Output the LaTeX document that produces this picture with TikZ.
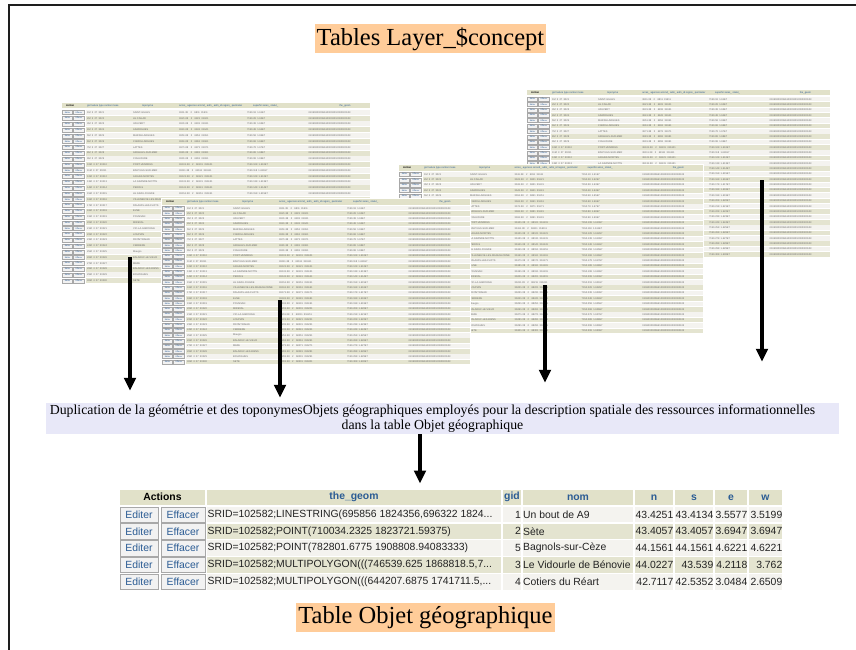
\documentclass[tikz,border=0pt]{standalone}
\usepackage{fontspec}
\setmainfont{Liberation Serif}
\setsansfont{Liberation Sans}
\usetikzlibrary{arrows.meta,positioning}
\definecolor{peach}{HTML}{FFCC99}
\definecolor{lavender}{HTML}{E8E8F8}
\definecolor{headfill}{HTML}{E1E1C9}
\definecolor{rowlight}{HTML}{F4F3EF}
\definecolor{rowolive}{HTML}{E4E4D0}
\definecolor{colblue}{HTML}{2B5C94}
\definecolor{btnfill}{HTML}{F2F2F2}
\definecolor{btnline}{HTML}{A8A8A8}
\definecolor{celltext}{HTML}{222222}
\definecolor{minitext}{HTML}{6A6A6A}
\definecolor{frameline}{HTML}{1E1E1E}
\newcommand{\toponymes}{SAINT-GILLES,LE CAILAR,VAUVERT,AIMARGUES,MARSILLARGUES,CANDILLARGUES,LATTES,ARGELES-SUR-MER,COLLIOURE,PORT-VENDRES,BANYULS-SUR-MER,AIGUES-MORTES,LA GRANDE-MOTTE,PEROLS,LE GRAU-D'AGDE,VILLENEUVE-LES-MAGUELONNE,PALAVAS-LES-FLOTS,ELNE,POUSSAN,MIREVAL,VIC-LA-GARDIOLE,LOUPIAN,FRONTIGNAN,CERBERE,Maugio,BALARUC-LE-VIEUX,MEZE,BALARUC-LES-BAINS,BOUZIGUES,SETE}
% small screenshot of a layer table: x, y, width, row pitch, name,
% then the first row whose buttons+codes / toponym / first values / last values+geom lie under another table
\newcommand{\minitab}[9]{%
  \begin{scope}[shift={(#1,#2)}]
    \fill[white] (-1,-1) rectangle (#3+1,{7+30*#4});
    \fill[headfill] (0,0) rectangle (#3,5.5);
    \ifnum#6>1 \node[minibold] (#5-action) at (4,2.75) {Action};
    \node[minihead] (#5-codes) at (25,2.75) {gid nature type canton insee};\fi
    \ifnum#7>1 \node[minihead] (#5-topo) at (80,2.75) {toponyme};\fi
    \ifnum#8>1 \node[minihead] (#5-vals) at (0.38*#3,2.75) {acres\_ agences arrond\_ adm\_ adm\_id region\_ perimeter};\fi
    \ifnum#9>1 \node[minihead] (#5-vals2) at (0.62*#3,2.75) {superfici aires\_ statut\_};
    \node[minihead] (#5-geom) at (0.9*#3,2.75) {the\_geom};\fi
    \foreach \t [count=\i] in \toponymes {
      \pgfmathsetmacro{\ry}{6.5+(\i-0.5)*#4}
      \ifodd\i \def\rc{rowlight}\else\def\rc{rowolive}\fi
      \fill[\rc] (23.5,\ry-#4/2+0.4) rectangle (#3,\ry+#4/2-0.4);
      \ifnum\i<#6
        \draw[minibtn] (0.5,\ry-2) rectangle (10.5,\ry+2);
        \draw[minibtn] (11.5,\ry-2) rectangle (22.5,\ry+2);
        \node[minibtntext] (#5-ed\i) at (5.5,\ry) {Editer};
        \node[minibtntext] (#5-ef\i) at (17,\ry) {Effacer};
        \node[minitxt] (#5-c\i) at (25,\ry) {\i M\enspace 3\enspace 27\enspace 302\i};
      \fi
      \ifnum\i<#7 \node[minitxt] (#5-t\i) at (71,\ry) {\t};\fi
      \ifnum\i<#8 \node[minitxt] (#5-v\i) at (0.38*#3,\ry) {36\i1.38\enspace\enspace 2\enspace\enspace 68\i1\enspace 316\i1};\fi
      \ifnum\i<#9
        \node[minitxt] (#5-w\i) at (0.6*#3,\ry) {7150.\i8\enspace 1.6\i E7};
        \node[minitxt] (#5-g\i) at (0.8*#3,\ry) {0106000020E6100000010000000103};
      \fi
    }
  \end{scope}}
% one line of the geographic object table
\newcommand{\georow}[9]{%
  \draw[btn] (120,#1) rectangle (158,#1+15.5);
  \draw[btn] (161,#1) rectangle (205,#1+15.5);
  \node[btntext] (ed-#4) at (139,#1+7.75) {Editer};
  \node[btntext] (ef-#4) at (183,#1+7.75) {Effacer};
  \fill[#2] (207,#1) rectangle (501,#1+15.5);
  \fill[#2] (503,#1) rectangle (521,#1+15.5);
  \fill[#2] (523,#1) rectangle (633,#1+15.5);
  \fill[#2] (635,#1) rectangle (673,#1+15.5);
  \fill[#2] (675,#1) rectangle (713,#1+15.5);
  \fill[#2] (715,#1) rectangle (747,#1+15.5);
  \fill[#2] (749,#1) rectangle (782,#1+15.5);
  \node[celltxt,anchor=west] (geom-#4) at (207.5,#1+7.75) {#3};
  \node[celltxt,anchor=east] (gid-#4) at (521,#1+7.75) {#4};
  \begin{scope}
    \clip (523,#1) rectangle (633,#1+15.5);
    \node[celltxt,anchor=west] (nom-#4) at (523,#1+7.75) {#5};
  \end{scope}
  \node[celltxt,anchor=east] (n-#4) at (673.5,#1+7.75) {#6};
  \node[celltxt,anchor=east] (s-#4) at (713.5,#1+7.75) {#7};
  \node[celltxt,anchor=east] (e-#4) at (747.5,#1+7.75) {#8};
  \node[celltxt,anchor=east] (w-#4) at (782.5,#1+7.75) {#9};}
\begin{document}
\begin{tikzpicture}[x=1pt,y=-1pt,
  title/.style={fill=peach,font=\fontsize{24.5}{28}\selectfont,inner xsep=2pt,inner ysep=2pt,minimum height=29pt},
  band/.style={fill=lavender,minimum width=793pt,minimum height=31pt,inner sep=0pt},
  bandtext/.style={font=\fontsize{13.8}{14.3}\selectfont,align=center,inner sep=0pt},
  arr/.style={line width=3.4pt,-{Triangle[length=13pt,width=11.5pt]}},
  minitxt/.style={font=\fontsize{2.5}{3}\sffamily,text=minitext,inner sep=0pt,anchor=west},
  minihead/.style={minitxt,text=colblue},
  minibold/.style={minitxt,text=black,font=\fontsize{2.6}{3}\sffamily\bfseries},
  minibtn/.style={draw=btnline,fill=btnfill,line width=0.2pt},
  minibtntext/.style={font=\fontsize{2.1}{3}\sffamily,text=colblue,inner sep=0pt},
  btn/.style={draw=btnline,fill=btnfill,line width=0.6pt},
  btntext/.style={font=\fontsize{10.4}{12}\sffamily,text=colblue,inner sep=0pt},
  celltxt/.style={font=\fontsize{10.4}{12}\sffamily,text=celltext,inner sep=0pt},
  headtxt/.style={font=\fontsize{10.4}{12}\sffamily\bfseries,text=colblue,inner sep=0pt}]
\useasboundingbox (0,0) rectangle (856,650);
\draw[line width=2.6pt,frameline] (9,650) -- (9,5) -- (856,5);
\node[title] (layers) at (430.5,39) {Tables Layer\_\$concept};
% the four layer tables, back to front
\minitab{62}{103}{308}{5.8}{ta}{99}{99}{17}{17}
\minitab{527}{90}{303}{5.35}{tb}{14}{14}{14}{99}
\minitab{399}{165}{304}{5.4}{tc}{6}{99}{99}{99}
\minitab{162}{199}{308}{5.3}{td}{99}{99}{99}{99}
\node[band] (dup) at (442,418.5) {};
\node[bandtext] (duptext) at (432.5,418.5) {Duplication de la géométrie et des toponymesObjets géographiques employés pour la description spatiale des ressources informationnelles\\dans la table Objet géographique};
\coordinate (src1) at (130,257);
\coordinate (src2) at (280,300);
\coordinate (src3) at (545,285);
\coordinate (src4) at (762,180);
\draw[arr,shorten >=12pt] (src1) -- (src1 |- dup.north);
\draw[arr,shorten >=5pt] (src2) -- (src2 |- dup.north);
\draw[arr,shorten >=20pt] (src3) -- (src3 |- dup.north);
\draw[arr,shorten >=41pt] (src4) -- (src4 |- dup.north);
% table Objet geographique
\fill[headfill] (120,489.5) rectangle (205,505);
\fill[headfill] (207,489.5) rectangle (501,505);
\fill[headfill] (503,489.5) rectangle (521,505);
\fill[headfill] (523,489.5) rectangle (633,505);
\fill[headfill] (635,489.5) rectangle (673,505);
\fill[headfill] (675,489.5) rectangle (713,505);
\fill[headfill] (715,489.5) rectangle (747,505);
\fill[headfill] (749,489.5) rectangle (782,505);
\coordinate (geotab) at (420,489.5);
\node[headtxt,text=black] (h-actions) at (162.5,497.25) {Actions};
\node[headtxt] (h-geom) at (354,497.25) {the\_geom};
\node[headtxt] (h-gid) at (512,497.25) {gid};
\node[headtxt] (h-nom) at (578,497.25) {nom};
\node[headtxt] (h-n) at (654,497.25) {n};
\node[headtxt] (h-s) at (694,497.25) {s};
\node[headtxt] (h-e) at (731,497.25) {e};
\node[headtxt] (h-w) at (765.5,497.25) {w};
\georow{506.8}{rowlight}{SRID=102582;LINESTRING(695856 1824356,696322 1824...}{1}{Un bout de A9}{43.4251}{43.4134}{3.5577}{3.5199}
\georow{523.6}{rowolive}{SRID=102582;POINT(710034.2325 1823721.59375)}{2}{Sète}{43.4057}{43.4057}{3.6947}{3.6947}
\georow{540.4}{rowlight}{SRID=102582;POINT(782801.6775 1908808.94083333)}{5}{Bagnols-sur-Cèze}{44.1561}{44.1561}{4.6221}{4.6221}
\georow{557.2}{rowolive}{SRID=102582;MULTIPOLYGON(((746539.625 1868818.5,7...}{3}{Le Vidourle de Bénovie}{44.0227}{43.539}{4.2118}{3.762}
\georow{574}{rowlight}{SRID=102582;MULTIPOLYGON(((644207.6875 1741711.5,...}{4}{Cotiers du Réart}{42.7117}{42.5352}{3.0484}{2.6509}
\draw[arr,shorten >=6pt] (dup.south -| geotab) -- (geotab);
\node[title] (objtab) at (425.5,617.5) {Table Objet géographique};
\end{tikzpicture}
\end{document}
